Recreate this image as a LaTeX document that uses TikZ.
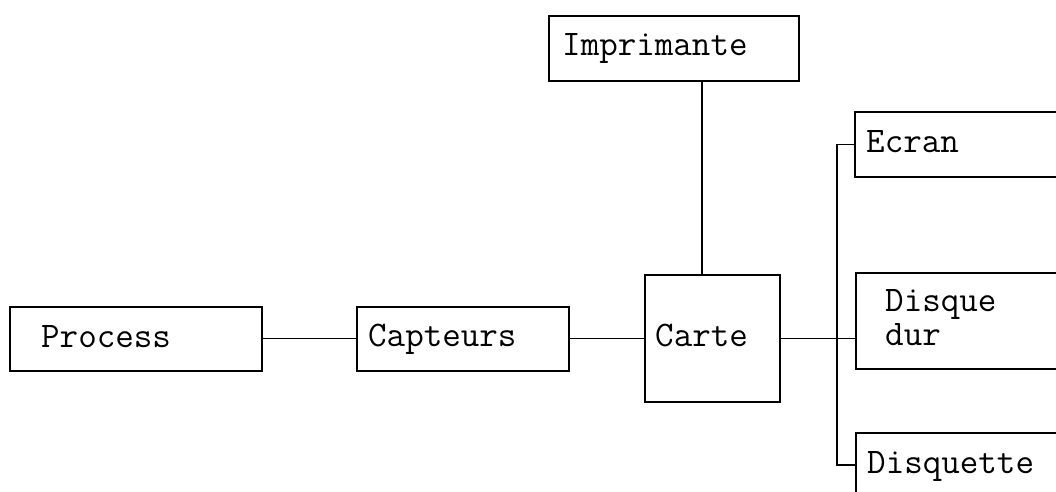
\documentclass[tikz,border=0pt]{standalone}
\usepackage{fontspec}
\begin{document}
\begin{tikzpicture}[x=1pt,y=-1pt,
  box/.style={draw, line width=1.6pt, rectangle, anchor=north west, inner sep=0pt},
  lbl/.style={anchor=base west, inner sep=0pt, align=left,
    font=\ttfamily\fontsize{36}{30}\selectfont},
  wire/.style={draw, line width=1.3pt}]
\useasboundingbox (0,0) rectangle (1056,491);
\clip (0,0) rectangle (1056,491);

% Boxes
\node[box, minimum width=252pt, minimum height=64pt]  (process)    at (9,306)   {};
\node[box, minimum width=212pt, minimum height=64pt]  (capteurs)   at (356,306) {};
\node[box, minimum width=135pt, minimum height=127pt] (carte)      at (644,274) {};
\node[box, minimum width=250pt, minimum height=65pt]  (imprimante) at (548,15)  {};
\node[box, minimum width=260pt, minimum height=65pt]  (ecran)      at (854,111) {};
\node[box, minimum width=260pt, minimum height=96pt]  (disque)     at (855,272) {};
\node[box, minimum width=260pt, minimum height=80pt]  (disquette)  at (855,432) {};

% Labels, placed on their baselines
\node[lbl] (process-t)    at (41,347)  {Process};
\node[lbl] (capteurs-t)   at (368,346) {Capteurs};
\node[lbl] (carte-t)      at (655,346) {Carte};
\node[lbl] (imprimante-t) at (562,55)  {Imprimante};
\node[lbl] (ecran-t)      at (866,152) {Ecran};
\node[lbl] (disque-t1)    at (885,311) {Disque};
\node[lbl] (disque-t2)    at (885,345) {dur};
\node[lbl] (disquette-t)  at (867,473) {Disquette};

% Connections
\draw[wire] (process.east) -- (capteurs.west);
\draw[wire] (capteurs.east) -- (carte.west |- capteurs.east);
\coordinate (tap) at (702,0);
\draw[wire] (carte.north -| tap) -- (imprimante.south -| tap);
\coordinate (bus) at (837,0);
\coordinate (busend) at (0,465);
\draw[wire] (ecran.west) -| (bus |- busend) -- (disquette.west |- busend);
\draw[wire] (carte.east) -- (carte.east -| disque.west);
\end{tikzpicture}
\end{document}
